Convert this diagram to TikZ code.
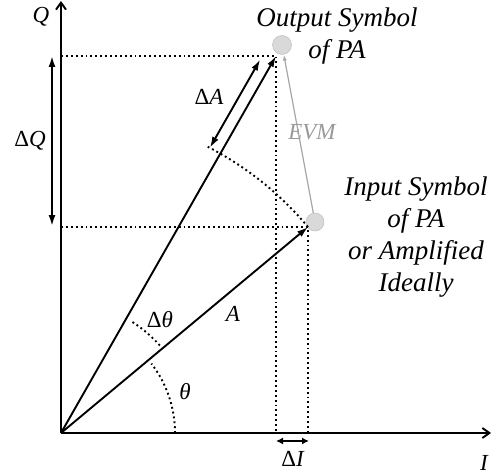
\documentclass[tikz,border=0pt]{standalone}
\usepackage{fontspec}
\setmainfont{Liberation Serif}
\usetikzlibrary{arrows.meta,positioning,calc}

\begin{document}
\begin{tikzpicture}[x=1pt,y=1pt,
  axis/.style={line width=1.9pt, -{Straight Barb[length=7pt,width=10pt]}},
  vec/.style={line width=1.9pt, -{Latex[length=11pt,width=7pt]}},
  dvec/.style={line width=1.9pt, {Latex[length=11pt,width=7pt]}-{Latex[length=11pt,width=7pt]}},
  dots/.style={line width=1.9pt, dash pattern=on 1.9pt off 3pt},
  symb/.style={circle, fill=gray!30, draw=gray!50, line width=0.5pt, minimum size=19pt, inner sep=0pt},
  lbl/.style={font=\fontsize{23}{25}\selectfont\itshape, inner sep=0pt},
  txt/.style={font=\fontsize{27}{32}\selectfont\itshape, align=center, inner sep=0pt}]
  \useasboundingbox (0,0) rectangle (493,475);
  % axes and the two symbol points
  \coordinate (O) at (61,42);
  \coordinate (xend) at (491,42);
  \coordinate (yend) at (61,474);
  \coordinate (pout) at (276,419);
  \coordinate (pin) at (308,248);
  \coordinate (qout) at (61,419);
  \coordinate (qin) at (61,248);
  \coordinate (iout) at (276,42);
  \coordinate (iin) at (308,42);
  \node[symb] (outsym) at (282,430) {};
  \node[symb, minimum size=18pt] (insym) at (315,253) {};
  \draw[axis] (O) -- (xend);
  \draw[axis] (O) -- (yend);
  % projections
  \draw[dots] (qout) -- (pout) -- (iout);
  \draw[dots] (qin) -- (pin) -- (iin);
  \draw[dots] (pin) arc[start angle=39.83, end angle=63, radius=321.6pt];
  \draw[dots] ($(O)+(0:114)$) arc[start angle=0, end angle=37.5, radius=114pt];
  \draw[dots] ($(O)+(41.5:132)$) arc[start angle=41.5, end angle=58.5, radius=132pt];
  % vectors
  \draw[vec] (O) -- (pin);
  \draw[vec] (O) -- (pout);
  \begin{scope}[shift={(O)}, rotate=60.3]
    \coordinate (da1) at (321.6,12);
    \coordinate (da2) at (423,12);
  \end{scope}
  \draw[dvec] (da1) -- (da2);
  \coordinate (dq1) at (52,419);
  \coordinate (dq2) at (52,249);
  \draw[dvec] (dq1) -- (dq2);
  \coordinate (di1) at (276,34);
  \coordinate (di2) at (309,34);
  \draw[line width=1.6pt, {Latex[length=7pt,width=7pt]}-{Latex[length=7pt,width=7pt]}] (di1) -- (di2);
  \draw[gray!70, line width=1.2pt, -{Latex[length=6pt,width=4pt]}] (insym) -- (outsym);
  % labels
  \node[lbl] (qlbl) at (41,458) {Q};
  \node[lbl, left=6pt of $(dq1)!0.5!(dq2)$] (dqlbl) {\textup{Δ}Q};
  \node[lbl] (dalbl) at (209,378) {\textup{Δ}A};
  \node[lbl, text=gray!80] (evmlbl) at (312,343) {EVM};
  \node[lbl] (dthlbl) at (160,155) {\textup{Δ}θ};
  \node[lbl] (albl) at (233,161) {A};
  \node[lbl] (thlbl) at (185,83) {θ};
  \node[lbl, below=10pt of $(di1)!0.5!(di2)$] (dilbl) {\textup{Δ}I};
  \node[lbl] (ilbl) at (484,12) {I};
  \node[txt] (outtxt) at (337,439) {Output Symbol\\of PA};
  \node[txt] (intxt) at (416,238) {Input Symbol\\of PA\\or Amplified\\Ideally};
\end{tikzpicture}
\end{document}
